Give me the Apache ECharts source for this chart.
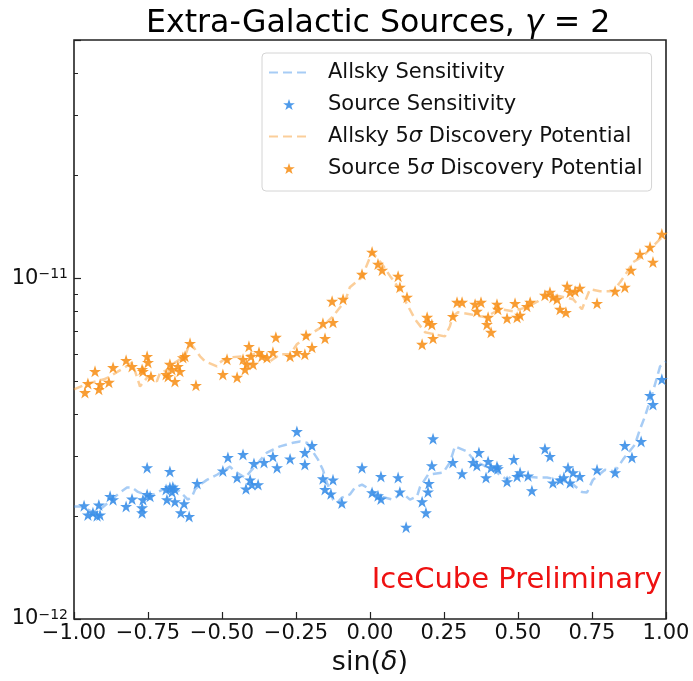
<!DOCTYPE html>
<html>
<head>
<meta charset="utf-8">
<script src="https://cdn.jsdelivr.net/npm/echarts@6/dist/echarts.min.js"></script>
<style>
  html, body { margin: 0; padding: 0; background: #fff; }
  #chart { width: 693px; height: 681px; }
</style>
</head>
<body>
<div id="chart"></div>
<script>
// Flux values are given in units of 1e-12
const FLUX_UNIT = 1e-12;

// Allsky sensitivity curve
const allskySensSinDec = [-1.0, -0.976, -0.936, -0.905, -0.845, -0.821, -0.804, -0.784, -0.743, -0.72, -0.699, -0.659, -0.615, -0.601, -0.591, -0.574, -0.551, -0.517, -0.473, -0.456, -0.422, -0.348, -0.328, -0.304, -0.26, -0.236, -0.213, -0.176, -0.159, -0.145, -0.125, -0.111, -0.095, -0.068, -0.051, -0.027, 0.0, 0.034, 0.078, 0.108, 0.135, 0.159, 0.169, 0.196, 0.247, 0.27, 0.287, 0.328, 0.355, 0.416, 0.463, 0.483, 0.53, 0.564, 0.598, 0.642, 0.686, 0.716, 0.733, 0.753, 0.794, 0.828, 0.855, 0.868, 0.895, 0.912, 0.929, 0.956, 0.98, 1.0];
const allskySensFlux = [2.14, 2.14, 2.06, 2.12, 2.35, 2.43, 2.43, 2.36, 2.29, 2.35, 2.40, 2.44, 2.24, 2.29, 2.40, 2.48, 2.56, 2.65, 2.80, 2.71, 2.60, 3.08, 3.14, 3.21, 3.29, 3.32, 3.29, 2.94, 2.74, 2.51, 2.24, 2.19, 2.27, 2.32, 2.43, 2.48, 2.40, 2.29, 2.24, 2.35, 2.24, 2.29, 2.44, 2.65, 2.69, 2.88, 3.21, 3.10, 2.90, 2.74, 2.56, 2.65, 2.62, 2.60, 2.60, 2.56, 2.48, 2.36, 2.35, 2.56, 2.74, 2.71, 2.94, 3.04, 3.25, 3.60, 3.93, 4.65, 5.51, 5.70];

// Per-source sensitivity
const sourceSensSinDec = [-0.966, -0.953, -0.936, -0.922, -0.912, -0.916, -0.878, -0.868, -0.824, -0.804, -0.770, -0.770, -0.767, -0.753, -0.743, -0.753, -0.689, -0.676, -0.666, -0.659, -0.669, -0.676, -0.686, -0.659, -0.628, -0.639, -0.611, -0.584, -0.497, -0.480, -0.449, -0.429, -0.419, -0.405, -0.399, -0.378, -0.392, -0.358, -0.328, -0.314, -0.270, -0.247, -0.220, -0.220, -0.196, -0.159, -0.125, -0.152, -0.132, -0.095, -0.027, 0.007, 0.027, 0.037, 0.037, 0.095, 0.101, 0.122, 0.176, 0.189, 0.196, 0.199, 0.209, 0.213, 0.280, 0.311, 0.348, 0.361, 0.368, 0.392, 0.399, 0.409, 0.429, 0.432, 0.463, 0.486, 0.497, 0.507, 0.534, 0.547, 0.591, 0.608, 0.618, 0.642, 0.655, 0.669, 0.676, 0.686, 0.709, 0.767, 0.828, 0.861, 0.885, 0.916, 0.946, 0.956, 0.986];
const sourceSensFlux = [2.15, 2.02, 2.05, 2.01, 2.02, 2.16, 2.29, 2.24, 2.14, 2.25, 2.12, 2.05, 2.24, 2.32, 2.29, 2.78, 2.40, 2.43, 2.44, 2.40, 2.36, 2.71, 2.24, 2.21, 2.18, 2.05, 2.00, 2.50, 2.72, 2.98, 2.60, 3.04, 2.41, 2.56, 2.48, 2.48, 2.86, 2.88, 3.00, 2.78, 2.95, 3.55, 3.08, 2.84, 3.23, 2.58, 2.56, 2.40, 2.33, 2.19, 2.78, 2.35, 2.30, 2.25, 2.62, 2.60, 2.36, 1.86, 2.21, 2.05, 2.36, 2.50, 2.82, 3.38, 2.88, 2.67, 2.88, 2.82, 3.08, 2.60, 2.90, 2.78, 2.80, 2.76, 2.53, 2.94, 2.62, 2.69, 2.63, 2.38, 3.16, 3.00, 2.51, 2.56, 2.60, 2.78, 2.51, 2.69, 2.62, 2.74, 2.69, 3.23, 2.98, 3.32, 4.53, 4.26, 5.05];

// Allsky 5 sigma discovery potential curve
const allskyDiscSinDec = [-1.0, -0.953, -0.899, -0.878, -0.851, -0.828, -0.804, -0.787, -0.777, -0.750, -0.720, -0.709, -0.676, -0.659, -0.625, -0.608, -0.574, -0.557, -0.517, -0.507, -0.483, -0.429, -0.395, -0.372, -0.338, -0.304, -0.270, -0.247, -0.213, -0.159, -0.125, -0.101, -0.084, -0.068, -0.027, 0.007, 0.041, 0.068, 0.084, 0.111, 0.152, 0.186, 0.220, 0.253, 0.270, 0.280, 0.297, 0.338, 0.389, 0.439, 0.483, 0.530, 0.568, 0.598, 0.642, 0.686, 0.716, 0.743, 0.777, 0.821, 0.845, 0.868, 0.889, 0.922, 0.946, 0.980, 1.0];
const allskyDiscFlux = [4.72, 4.91, 5.05, 5.15, 5.33, 5.47, 5.66, 5.12, 4.81, 5.15, 4.98, 5.29, 5.40, 5.66, 5.90, 6.48, 5.90, 5.70, 5.51, 5.66, 5.85, 5.90, 5.98, 6.06, 5.70, 5.98, 5.98, 6.40, 6.75, 7.23, 7.73, 8.22, 8.56, 9.41, 10.07, 11.93, 11.00, 10.14, 9.73, 8.85, 7.58, 6.94, 6.84, 6.75, 7.23, 7.73, 7.94, 7.84, 7.68, 8.11, 8.00, 8.22, 8.56, 8.97, 8.85, 8.68, 8.11, 9.28, 9.16, 9.16, 9.73, 10.41, 11.15, 11.60, 12.17, 13.02, 13.47];

// Per-source 5 sigma discovery potential
const sourceDiscSinDec = [-0.963, -0.953, -0.929, -0.912, -0.916, -0.882, -0.868, -0.824, -0.804, -0.770, -0.767, -0.753, -0.750, -0.740, -0.689, -0.682, -0.676, -0.669, -0.659, -0.649, -0.642, -0.632, -0.625, -0.608, -0.588, -0.497, -0.483, -0.449, -0.429, -0.422, -0.416, -0.409, -0.402, -0.395, -0.375, -0.365, -0.348, -0.328, -0.318, -0.270, -0.247, -0.220, -0.216, -0.196, -0.159, -0.152, -0.125, -0.128, -0.091, -0.027, 0.007, 0.027, 0.041, 0.095, 0.101, 0.125, 0.193, 0.196, 0.209, 0.176, 0.213, 0.280, 0.294, 0.311, 0.355, 0.375, 0.361, 0.399, 0.395, 0.409, 0.429, 0.432, 0.463, 0.490, 0.497, 0.507, 0.541, 0.530, 0.591, 0.608, 0.618, 0.632, 0.642, 0.662, 0.666, 0.676, 0.693, 0.709, 0.767, 0.828, 0.861, 0.882, 0.912, 0.946, 0.956, 0.986];
const sourceDiscFlux = [4.62, 4.91, 5.33, 4.88, 4.72, 4.95, 5.47, 5.74, 5.51, 5.40, 5.33, 5.90, 5.66, 5.15, 5.22, 5.15, 5.59, 5.40, 4.98, 5.51, 5.33, 5.85, 5.90, 6.44, 4.85, 5.22, 5.78, 5.12, 5.78, 5.40, 5.59, 6.31, 5.90, 5.59, 6.06, 5.90, 5.85, 6.06, 6.71, 5.90, 6.06, 5.98, 6.80, 6.27, 7.37, 6.66, 7.42, 8.56, 8.68, 10.27, 11.93, 11.00, 10.56, 10.14, 9.41, 8.80, 7.68, 7.42, 7.32, 6.40, 6.66, 7.73, 8.50, 8.50, 8.39, 8.50, 8.00, 7.68, 7.32, 6.94, 8.39, 8.11, 7.63, 8.44, 7.68, 7.79, 8.50, 8.27, 8.91, 9.10, 8.80, 8.68, 8.11, 7.94, 9.47, 9.10, 9.16, 9.35, 8.44, 9.16, 9.41, 10.56, 11.77, 12.34, 11.15, 13.47];

// Axis settings
const xTicks = { min: -1, max: 1, step: 0.25 };
const yRange = { min: 1e-12, max: 5e-11 };
const yMinorTickValues = [2e-12, 3e-12, 4e-12, 5e-12, 6e-12, 7e-12, 8e-12, 9e-12, 2e-11, 3e-11, 4e-11, 5e-11];

const BLUE = '#3b8fe8';
const ORANGE = '#f7921e';
const BLUE_DASH = 'rgba(59,143,232,0.45)';
const ORANGE_DASH = 'rgba(247,146,30,0.45)';
const STAR = 'path://M50,0 L61.8,35.1 L98.9,35.1 L68.9,56.8 L80.3,91.9 L50,70.2 L19.7,91.9 L31.1,56.8 L1.1,35.1 L38.2,35.1 Z';
const FONT = 'DejaVu Sans';

function pairs(xs, ys) {
  return xs.map((x, i) => [x, ys[i] * FLUX_UNIT]);
}
function minusSign(s) { return s.replace('-', '\u2212'); }

const chart = echarts.init(document.getElementById('chart'), null, { renderer: 'canvas' });

chart.setOption({
  animation: false,
  backgroundColor: '#fff',
  textStyle: { fontFamily: FONT, color: '#000' },
  title: {
    text: '{n|Extra-Galactic Sources, }{i|\u03b3}{n| = 2}',
    left: 141,
    top: 3,
    textStyle: {
      rich: {
        n: { fontFamily: FONT, fontSize: 31.6, fontWeight: 'normal', color: '#000' },
        i: { fontFamily: FONT, fontSize: 31.6, fontWeight: 'normal', fontStyle: 'italic', color: '#000' }
      }
    }
  },
  grid: {
    left: 74, right: 27, top: 40, bottom: 62,
    outerBoundsMode: 'none',
    containLabel: false,
    show: true, borderColor: '#222', borderWidth: 1.6, backgroundColor: 'transparent'
  },
  legend: {
    left: 262, top: 53,
    orient: 'vertical',
    itemWidth: 40, itemHeight: 11, itemGap: 11,
    padding: [9, 9, 12, 6],
    borderColor: '#d4d4d4', borderWidth: 1, borderRadius: 4,
    backgroundColor: 'rgba(255,255,255,0.85)',
    data: [
      { name: 'Allsky Sensitivity', itemStyle: { opacity: 0 } },
      { name: 'Source Sensitivity' },
      { name: 'Allsky 5\u03c3 Discovery Potential', itemStyle: { opacity: 0 } },
      { name: 'Source 5\u03c3 Discovery Potential' }
    ],
    formatter: name => name.replace('\u03c3', '{i|\u03c3}'),
    textStyle: {
      fontFamily: FONT, fontSize: 21, color: '#111', padding: [0, 0, 0, 14],
      rich: { i: { fontFamily: FONT, fontSize: 21, fontStyle: 'italic', color: '#111' } }
    }
  },
  xAxis: {
    type: 'value',
    min: xTicks.min, max: xTicks.max, interval: xTicks.step,
    axisLine: { show: false, onZero: false },
    axisTick: { inside: true, length: 7, lineStyle: { color: '#222', width: 1.2 } },
    splitLine: { show: false },
    axisLabel: {
      fontFamily: FONT, fontSize: 21, color: '#111', margin: 4,
      formatter: v => minusSign(v.toFixed(2))
    },
    name: '{n|sin(}{i|\u03b4}{n|)}',
    nameLocation: 'middle',
    nameGap: 30,
    nameTextStyle: {
      rich: {
        n: { fontFamily: FONT, fontSize: 27, color: '#111' },
        i: { fontFamily: FONT, fontSize: 27, fontStyle: 'italic', color: '#111' }
      }
    }
  },
  yAxis: [
    {
      type: 'log', logBase: 10,
      min: yRange.min, max: yRange.max,
      position: 'left',
      axisLine: { show: false, onZero: false },
      splitLine: { show: false },
      axisTick: { inside: true, length: 7, lineStyle: { color: '#222', width: 1.2 } },
      axisLabel: {
        margin: 6,
        formatter: v => {
          const e = Math.log10(v);
          if (Math.abs(e - Math.round(e)) > 1e-6) return '';
          return '{b|10}{s|' + minusSign(String(Math.round(e))) + '}';
        },
        rich: {
          b: { fontFamily: FONT, fontSize: 21, color: '#111' },
          s: { fontFamily: FONT, fontSize: 14, color: '#111', verticalAlign: 'top' }
        }
      }
    },
    {
      // helper axis carrying the minor log ticks (positions in log10 space)
      type: 'value',
      position: 'left',
      offset: 0,
      min: Math.log10(yRange.min), max: Math.log10(yRange.max),
      axisLine: { show: false, onZero: false },
      splitLine: { show: false },
      axisLabel: { show: false },
      axisTick: {
        show: true,
        inside: true, length: 4,
        customValues: yMinorTickValues.map(v => Math.log10(v)),
        lineStyle: { color: '#222', width: 1 }
      }
    }
  ],
  graphic: [
    {
      type: 'text', right: 31, top: 566, z: 10,
      style: { text: 'IceCube Preliminary', fill: '#ee1111', font: '29px "DejaVu Sans"' }
    }
  ],
  series: [
    {
      name: 'Allsky Sensitivity', type: 'line', yAxisIndex: 0,
      data: pairs(allskySensSinDec, allskySensFlux),
      symbol: 'none', z: 2,
      itemStyle: { color: BLUE_DASH },
      lineStyle: { color: BLUE_DASH, width: 2.5, type: [9, 5] }
    },
    {
      name: 'Source Sensitivity', type: 'scatter', yAxisIndex: 0,
      data: pairs(sourceSensSinDec, sourceSensFlux),
      symbol: STAR, symbolSize: 12, z: 3,
      itemStyle: { color: BLUE, opacity: 0.9 }
    },
    {
      name: 'Allsky 5\u03c3 Discovery Potential', type: 'line', yAxisIndex: 0,
      data: pairs(allskyDiscSinDec, allskyDiscFlux),
      symbol: 'none', z: 2,
      itemStyle: { color: ORANGE_DASH },
      lineStyle: { color: ORANGE_DASH, width: 2.5, type: [9, 5] }
    },
    {
      name: 'Source 5\u03c3 Discovery Potential', type: 'scatter', yAxisIndex: 0,
      data: pairs(sourceDiscSinDec, sourceDiscFlux),
      symbol: STAR, symbolSize: 12, z: 3,
      itemStyle: { color: ORANGE, opacity: 0.9 }
    }
  ]
});
</script>
</body>
</html>
